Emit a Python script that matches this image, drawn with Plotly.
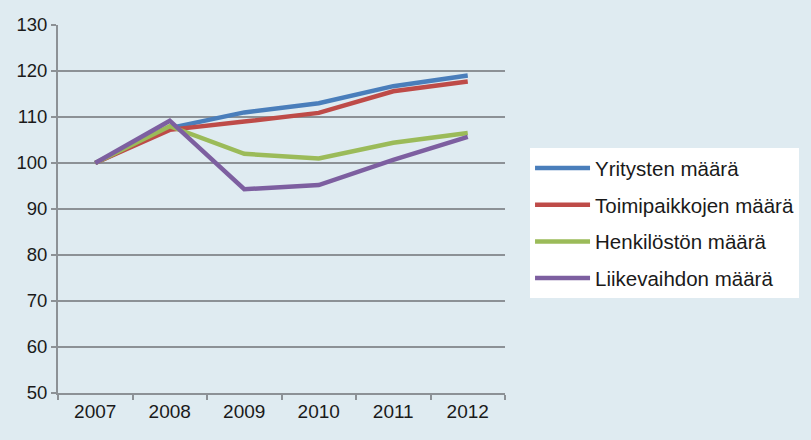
import plotly.graph_objects as go

years = ["2007", "2008", "2009", "2010", "2011", "2012"]
yritysten = [100, 107.6, 111.0, 113.0, 116.7, 119.0]
toimipaikkojen = [100, 107.2, 109.0, 110.9, 115.6, 117.7]
henkiloston = [100, 108.0, 102.0, 101.0, 104.4, 106.5]
liikevaihdon = [100, 109.2, 94.3, 95.2, 100.7, 105.7]

names = ["Yritysten määrä", "Toimipaikkojen määrä", "Henkilöstön määrä", "Liikevaihdon määrä"]
colors = ["#4a7ebb", "#be4b48", "#9bbb59", "#7d5fa0"]
series = [yritysten, toimipaikkojen, henkiloston, liikevaihdon]

fig = go.Figure()
for i, (n, c, s) in enumerate(zip(names, colors, series)):
    fig.add_trace(go.Scatter(x=years, y=s, name=n, mode="lines",
                             line=dict(color=c, width=4.5), legendgroup=str(i)))

bg = "#dfebf1"
fig.update_layout(
    width=811, height=440,
    margin=dict(l=58, r=304, t=25, b=47),
    paper_bgcolor=bg, plot_bgcolor=bg,
    font=dict(family="Liberation Sans, Arial, sans-serif", color="#1a1a1a", size=19),
    showlegend=True,
    legend=dict(x=1.056, y=0.665, xanchor="left", yanchor="top",
                bgcolor="white", borderwidth=0, tracegroupgap=7, itemwidth=55,
                font=dict(size=20.5, color="#1a1a1a")),
)
fig.update_xaxes(type="category", tickson="boundaries", ticks="outside", ticklen=5,
                 tickcolor="#8c9196", tickwidth=2, showline=True, linecolor="#8c9196",
                 linewidth=2, showgrid=False, range=[-0.5, 5.5],
                 tickfont=dict(size=19))
fig.update_yaxes(range=[50, 130], dtick=10, showline=True, linecolor="#8c9196", linewidth=2,
                 showgrid=True, gridcolor="#8c9196", gridwidth=1.5, ticks="outside",
                 ticklen=5, tickcolor="#8c9196", tickwidth=2, zeroline=False,
                 tickfont=dict(size=18.5))

fig.write_html("out.html")
